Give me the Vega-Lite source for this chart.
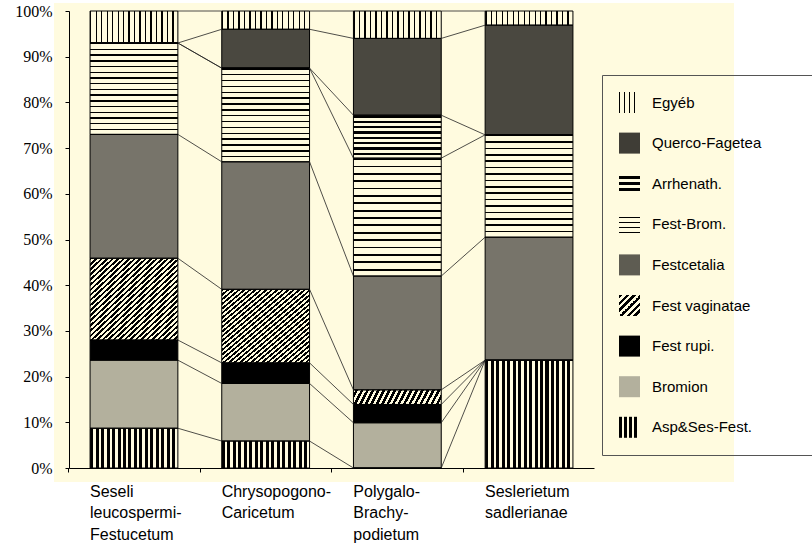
{
  "$schema": "https://vega.github.io/schema/vega-lite/v6.json",
  "width": 680,
  "height": 479,
  "autosize": {"type": "none"},
  "padding": {"left": 54, "top": 3, "right": 78, "bottom": 64},
  "background": "white",
  "config": {"view": {"fill": "#fffbdf", "stroke": null}},
  "datasets": {
    "d": [
      {"bar": "Seseli leucospermi-Festucetum", "b": 1, "cat": "Asp&Ses-Fest.", "k": 1, "v": 8.7},
      {"bar": "Seseli leucospermi-Festucetum", "b": 1, "cat": "Bromion", "k": 2, "v": 14.9},
      {"bar": "Seseli leucospermi-Festucetum", "b": 1, "cat": "Fest rupi.", "k": 3, "v": 4.4},
      {"bar": "Seseli leucospermi-Festucetum", "b": 1, "cat": "Fest vaginatae", "k": 4, "v": 17.9},
      {"bar": "Seseli leucospermi-Festucetum", "b": 1, "cat": "Festcetalia", "k": 5, "v": 27.1},
      {"bar": "Seseli leucospermi-Festucetum", "b": 1, "cat": "Fest-Brom.", "k": 6, "v": 20.0},
      {"bar": "Seseli leucospermi-Festucetum", "b": 1, "cat": "Arrhenath.", "k": 7, "v": 0},
      {"bar": "Seseli leucospermi-Festucetum", "b": 1, "cat": "Querco-Fagetea", "k": 8, "v": 0},
      {"bar": "Seseli leucospermi-Festucetum", "b": 1, "cat": "Egyéb", "k": 9, "v": 7.0},
      {"bar": "Chrysopogono-Caricetum", "b": 2, "cat": "Asp&Ses-Fest.", "k": 1, "v": 5.9},
      {"bar": "Chrysopogono-Caricetum", "b": 2, "cat": "Bromion", "k": 2, "v": 12.6},
      {"bar": "Chrysopogono-Caricetum", "b": 2, "cat": "Fest rupi.", "k": 3, "v": 4.5},
      {"bar": "Chrysopogono-Caricetum", "b": 2, "cat": "Fest vaginatae", "k": 4, "v": 16.1},
      {"bar": "Chrysopogono-Caricetum", "b": 2, "cat": "Festcetalia", "k": 5, "v": 27.9},
      {"bar": "Chrysopogono-Caricetum", "b": 2, "cat": "Fest-Brom.", "k": 6, "v": 20.5},
      {"bar": "Chrysopogono-Caricetum", "b": 2, "cat": "Arrhenath.", "k": 7, "v": 0},
      {"bar": "Chrysopogono-Caricetum", "b": 2, "cat": "Querco-Fagetea", "k": 8, "v": 8.5},
      {"bar": "Chrysopogono-Caricetum", "b": 2, "cat": "Egyéb", "k": 9, "v": 4.0},
      {"bar": "Polygalo-Brachypodietum", "b": 3, "cat": "Asp&Ses-Fest.", "k": 1, "v": 0},
      {"bar": "Polygalo-Brachypodietum", "b": 3, "cat": "Bromion", "k": 2, "v": 9.9},
      {"bar": "Polygalo-Brachypodietum", "b": 3, "cat": "Fest rupi.", "k": 3, "v": 4.0},
      {"bar": "Polygalo-Brachypodietum", "b": 3, "cat": "Fest vaginatae", "k": 4, "v": 3.2},
      {"bar": "Polygalo-Brachypodietum", "b": 3, "cat": "Festcetalia", "k": 5, "v": 24.9},
      {"bar": "Polygalo-Brachypodietum", "b": 3, "cat": "Fest-Brom.", "k": 6, "v": 25.8},
      {"bar": "Polygalo-Brachypodietum", "b": 3, "cat": "Arrhenath.", "k": 7, "v": 9.4},
      {"bar": "Polygalo-Brachypodietum", "b": 3, "cat": "Querco-Fagetea", "k": 8, "v": 16.8},
      {"bar": "Polygalo-Brachypodietum", "b": 3, "cat": "Egyéb", "k": 9, "v": 6.0},
      {"bar": "Seslerietum sadlerianae", "b": 4, "cat": "Asp&Ses-Fest.", "k": 1, "v": 23.6},
      {"bar": "Seslerietum sadlerianae", "b": 4, "cat": "Bromion", "k": 2, "v": 0},
      {"bar": "Seslerietum sadlerianae", "b": 4, "cat": "Fest rupi.", "k": 3, "v": 0},
      {"bar": "Seslerietum sadlerianae", "b": 4, "cat": "Fest vaginatae", "k": 4, "v": 0},
      {"bar": "Seslerietum sadlerianae", "b": 4, "cat": "Festcetalia", "k": 5, "v": 26.9},
      {"bar": "Seslerietum sadlerianae", "b": 4, "cat": "Fest-Brom.", "k": 6, "v": 22.4},
      {"bar": "Seslerietum sadlerianae", "b": 4, "cat": "Arrhenath.", "k": 7, "v": 0},
      {"bar": "Seslerietum sadlerianae", "b": 4, "cat": "Querco-Fagetea", "k": 8, "v": 24.0},
      {"bar": "Seslerietum sadlerianae", "b": 4, "cat": "Egyéb", "k": 9, "v": 3.1}
    ]
  },
  "data": {"name": "d"},
  "transform": [
    {"stack": "v", "groupby": ["bar"], "sort": [{"field": "k", "order": "ascending"}], "as": ["y0", "y1"]}
  ],
  "layer": [
    {
      "transform": [{"filter": "datum.cat == 'Querco-Fagetea' || datum.cat == 'Festcetalia' || datum.cat == 'Fest rupi.' || datum.cat == 'Bromion'"}],
      "mark": {"type": "bar", "stroke": "black", "strokeWidth": 1},
      "encoding": {
        "x": {
          "field": "bar", "type": "nominal",
          "scale": {
            "domain": ["Seseli leucospermi-Festucetum", "Chrysopogono-Caricetum", "Polygalo-Brachypodietum", "Seslerietum sadlerianae"],
            "range": [15, 540], "paddingInner": 0.3333, "paddingOuter": 0.16
          },
          "axis": {
            "title": null, "orient": "bottom", "offset": -14, "bandPosition": -0.245,
            "domainColor": "black", "domainWidth": 1, "tickColor": "black", "tickSize": 4,
            "labelAngle": 0, "labelAlign": "left", "labelBaseline": "top", "labelOffset": -44, "labelPadding": 11,
            "labelFont": "Liberation Sans", "labelFontSize": 16, "labelColor": "black", "labelLineHeight": 21.5,
            "labelOverlap": false, "labelBound": false, "labelLimit": 400, "labelFlush": false,
            "labelExpr": "datum.value == 'Seseli leucospermi-Festucetum' ? ['Seseli', 'leucospermi-', 'Festucetum'] : datum.value == 'Chrysopogono-Caricetum' ? ['Chrysopogono-', 'Caricetum'] : datum.value == 'Polygalo-Brachypodietum' ? ['Polygalo-', 'Brachy-', 'podietum'] : ['Seslerietum', 'sadlerianae']"
          }
        },
        "y": {
          "field": "y0", "type": "quantitative",
          "scale": {"domain": [0, 100], "range": [465, 8], "nice": false},
          "axis": {
            "title": null, "orient": "left", "offset": -15, "grid": false,
            "values": [0, 10, 20, 30, 40, 50, 60, 70, 80, 90, 100],
            "labelExpr": "datum.value + '%'",
            "domainColor": "black", "domainWidth": 1, "tickColor": "black", "tickSize": 4,
            "labelFont": "Liberation Serif", "labelFontSize": 16, "labelColor": "black", "labelPadding": 13
          }
        },
        "y2": {"field": "y1"},
        "color": {
          "field": "cat", "type": "nominal", "legend": null,
          "scale": {
            "domain": ["Querco-Fagetea", "Festcetalia", "Fest rupi.", "Bromion"],
            "range": ["#4a4840", "#77746a", "#000000", "#b3b09d"]
          }
        },
        "opacity": {
          "field": "cat", "type": "nominal",
          "scale": {
            "domain": ["Egyéb", "Querco-Fagetea", "Arrhenath.", "Fest-Brom.", "Festcetalia", "Fest vaginatae", "Fest rupi.", "Bromion", "Asp&Ses-Fest."],
            "range": [1, 1, 1, 1, 1, 1, 1, 1, 1]
          },
          "legend": {
            "orient": "none", "legendX": 548, "legendY": 72, "title": null,
            "symbolType": "square", "symbolSize": 441, "symbolStrokeWidth": 0, "symbolStrokeColor": "transparent",
            "labelFont": "Liberation Sans", "labelFontSize": 15, "labelColor": "black", "labelOffset": 12,
            "rowPadding": 19.6, "padding": 17, "strokeColor": "#555555",
            "labelExpr": "datum.label + '\u2800\u2800\u2800'",
            "symbolFillColor": {"expr": "datum.value == 'Egyéb' ? {gradient: 'linear', x1: 0, y1: 0, x2: 1, y2: 0, stops: [{offset: 0, color: 'black'}, {offset: 0.06, color: 'black'}, {offset: 0.06, color: 'transparent'}, {offset: 0.24, color: 'transparent'}, {offset: 0.24, color: 'black'}, {offset: 0.3, color: 'black'}, {offset: 0.3, color: 'transparent'}, {offset: 0.48, color: 'transparent'}, {offset: 0.48, color: 'black'}, {offset: 0.54, color: 'black'}, {offset: 0.54, color: 'transparent'}, {offset: 0.72, color: 'transparent'}, {offset: 0.72, color: 'black'}, {offset: 0.78, color: 'black'}, {offset: 0.78, color: 'transparent'}, {offset: 1, color: 'transparent'}]} : datum.value == 'Querco-Fagetea' ? '#3f3d36' : datum.value == 'Arrhenath.' ? {gradient: 'linear', x1: 0, y1: 0, x2: 0, y2: 1, stops: [{offset: 0, color: 'transparent'}, {offset: 0.15, color: 'transparent'}, {offset: 0.15, color: 'black'}, {offset: 0.3, color: 'black'}, {offset: 0.3, color: 'transparent'}, {offset: 0.42, color: 'transparent'}, {offset: 0.42, color: 'black'}, {offset: 0.57, color: 'black'}, {offset: 0.57, color: 'transparent'}, {offset: 0.69, color: 'transparent'}, {offset: 0.69, color: 'black'}, {offset: 0.84, color: 'black'}, {offset: 0.84, color: 'transparent'}, {offset: 1, color: 'transparent'}]} : datum.value == 'Fest-Brom.' ? {gradient: 'linear', x1: 0, y1: 0, x2: 0, y2: 1, stops: [{offset: 0, color: 'transparent'}, {offset: 0.14, color: 'transparent'}, {offset: 0.14, color: 'black'}, {offset: 0.2, color: 'black'}, {offset: 0.2, color: 'transparent'}, {offset: 0.38, color: 'transparent'}, {offset: 0.38, color: 'black'}, {offset: 0.44, color: 'black'}, {offset: 0.44, color: 'transparent'}, {offset: 0.62, color: 'transparent'}, {offset: 0.62, color: 'black'}, {offset: 0.68, color: 'black'}, {offset: 0.68, color: 'transparent'}, {offset: 0.86, color: 'transparent'}, {offset: 0.86, color: 'black'}, {offset: 0.92, color: 'black'}, {offset: 0.92, color: 'transparent'}, {offset: 1, color: 'transparent'}]} : datum.value == 'Festcetalia' ? '#5e5c52' : datum.value == 'Fest vaginatae' ? {gradient: 'linear', x1: 0, y1: 0, x2: 1, y2: 1, stops: [{offset: 0, color: 'black'}, {offset: 0.0833, color: 'black'}, {offset: 0.0833, color: 'transparent'}, {offset: 0.1667, color: 'transparent'}, {offset: 0.1667, color: 'black'}, {offset: 0.25, color: 'black'}, {offset: 0.25, color: 'transparent'}, {offset: 0.3333, color: 'transparent'}, {offset: 0.3333, color: 'black'}, {offset: 0.4167, color: 'black'}, {offset: 0.4167, color: 'transparent'}, {offset: 0.5, color: 'transparent'}, {offset: 0.5, color: 'black'}, {offset: 0.5833, color: 'black'}, {offset: 0.5833, color: 'transparent'}, {offset: 0.6667, color: 'transparent'}, {offset: 0.6667, color: 'black'}, {offset: 0.75, color: 'black'}, {offset: 0.75, color: 'transparent'}, {offset: 0.8333, color: 'transparent'}, {offset: 0.8333, color: 'black'}, {offset: 0.9167, color: 'black'}, {offset: 0.9167, color: 'transparent'}, {offset: 1, color: 'transparent'}]} : datum.value == 'Fest rupi.' ? '#000000' : datum.value == 'Bromion' ? '#b3b09d' : {gradient: 'linear', x1: 0, y1: 0, x2: 1, y2: 0, stops: [{offset: 0, color: 'black'}, {offset: 0.13, color: 'black'}, {offset: 0.13, color: 'transparent'}, {offset: 0.24, color: 'transparent'}, {offset: 0.24, color: 'black'}, {offset: 0.37, color: 'black'}, {offset: 0.37, color: 'transparent'}, {offset: 0.48, color: 'transparent'}, {offset: 0.48, color: 'black'}, {offset: 0.61, color: 'black'}, {offset: 0.61, color: 'transparent'}, {offset: 0.72, color: 'transparent'}, {offset: 0.72, color: 'black'}, {offset: 0.85, color: 'black'}, {offset: 0.85, color: 'transparent'}, {offset: 1, color: 'transparent'}]}"}
          }
        }
      }
    },
    {
      "transform": [{"filter": "datum.cat == 'Egyéb'"}],
      "mark": {"type": "bar", "stroke": "black", "strokeWidth": 1, "fill": {"gradient": "linear", "x1": 0, "y1": 0, "x2": 1, "y2": 0, "stops": [
                {"offset": 0, "color": "black"}, {"offset": 0.015625, "color": "black"}, {"offset": 0.015625, "color": "transparent"}, {"offset": 0.0625, "color": "transparent"},
                {"offset": 0.0625, "color": "black"}, {"offset": 0.078125, "color": "black"}, {"offset": 0.078125, "color": "transparent"}, {"offset": 0.125, "color": "transparent"},
                {"offset": 0.125, "color": "black"}, {"offset": 0.140625, "color": "black"}, {"offset": 0.140625, "color": "transparent"}, {"offset": 0.1875, "color": "transparent"},
                {"offset": 0.1875, "color": "black"}, {"offset": 0.203125, "color": "black"}, {"offset": 0.203125, "color": "transparent"}, {"offset": 0.25, "color": "transparent"},
                {"offset": 0.25, "color": "black"}, {"offset": 0.265625, "color": "black"}, {"offset": 0.265625, "color": "transparent"}, {"offset": 0.3125, "color": "transparent"},
                {"offset": 0.3125, "color": "black"}, {"offset": 0.328125, "color": "black"}, {"offset": 0.328125, "color": "transparent"}, {"offset": 0.375, "color": "transparent"},
                {"offset": 0.375, "color": "black"}, {"offset": 0.390625, "color": "black"}, {"offset": 0.390625, "color": "transparent"}, {"offset": 0.4375, "color": "transparent"},
                {"offset": 0.4375, "color": "black"}, {"offset": 0.453125, "color": "black"}, {"offset": 0.453125, "color": "transparent"}, {"offset": 0.5, "color": "transparent"},
                {"offset": 0.5, "color": "black"}, {"offset": 0.515625, "color": "black"}, {"offset": 0.515625, "color": "transparent"}, {"offset": 0.5625, "color": "transparent"},
                {"offset": 0.5625, "color": "black"}, {"offset": 0.578125, "color": "black"}, {"offset": 0.578125, "color": "transparent"}, {"offset": 0.625, "color": "transparent"},
                {"offset": 0.625, "color": "black"}, {"offset": 0.640625, "color": "black"}, {"offset": 0.640625, "color": "transparent"}, {"offset": 0.6875, "color": "transparent"},
                {"offset": 0.6875, "color": "black"}, {"offset": 0.703125, "color": "black"}, {"offset": 0.703125, "color": "transparent"}, {"offset": 0.75, "color": "transparent"},
                {"offset": 0.75, "color": "black"}, {"offset": 0.765625, "color": "black"}, {"offset": 0.765625, "color": "transparent"}, {"offset": 0.8125, "color": "transparent"},
                {"offset": 0.8125, "color": "black"}, {"offset": 0.828125, "color": "black"}, {"offset": 0.828125, "color": "transparent"}, {"offset": 0.875, "color": "transparent"},
                {"offset": 0.875, "color": "black"}, {"offset": 0.890625, "color": "black"}, {"offset": 0.890625, "color": "transparent"}, {"offset": 0.9375, "color": "transparent"},
                {"offset": 0.9375, "color": "black"}, {"offset": 0.953125, "color": "black"}, {"offset": 0.953125, "color": "transparent"}, {"offset": 1, "color": "transparent"}
      ]}},
      "encoding": {
        "x": {"field": "bar", "type": "nominal"},
        "y": {"field": "y0", "type": "quantitative"},
        "y2": {"field": "y1"}
      }
    },
    {
      "transform": [{"filter": "datum.cat == 'Fest-Brom.'"}],
      "mark": {"type": "bar", "stroke": "black", "strokeWidth": 1, "fill": {"gradient": "linear", "x1": 0, "y1": 0, "x2": 0, "y2": 1, "stops": [
                {"offset": 0, "color": "black"}, {"offset": 0.015625, "color": "black"}, {"offset": 0.015625, "color": "transparent"}, {"offset": 0.0625, "color": "transparent"},
                {"offset": 0.0625, "color": "black"}, {"offset": 0.078125, "color": "black"}, {"offset": 0.078125, "color": "transparent"}, {"offset": 0.125, "color": "transparent"},
                {"offset": 0.125, "color": "black"}, {"offset": 0.140625, "color": "black"}, {"offset": 0.140625, "color": "transparent"}, {"offset": 0.1875, "color": "transparent"},
                {"offset": 0.1875, "color": "black"}, {"offset": 0.203125, "color": "black"}, {"offset": 0.203125, "color": "transparent"}, {"offset": 0.25, "color": "transparent"},
                {"offset": 0.25, "color": "black"}, {"offset": 0.265625, "color": "black"}, {"offset": 0.265625, "color": "transparent"}, {"offset": 0.3125, "color": "transparent"},
                {"offset": 0.3125, "color": "black"}, {"offset": 0.328125, "color": "black"}, {"offset": 0.328125, "color": "transparent"}, {"offset": 0.375, "color": "transparent"},
                {"offset": 0.375, "color": "black"}, {"offset": 0.390625, "color": "black"}, {"offset": 0.390625, "color": "transparent"}, {"offset": 0.4375, "color": "transparent"},
                {"offset": 0.4375, "color": "black"}, {"offset": 0.453125, "color": "black"}, {"offset": 0.453125, "color": "transparent"}, {"offset": 0.5, "color": "transparent"},
                {"offset": 0.5, "color": "black"}, {"offset": 0.515625, "color": "black"}, {"offset": 0.515625, "color": "transparent"}, {"offset": 0.5625, "color": "transparent"},
                {"offset": 0.5625, "color": "black"}, {"offset": 0.578125, "color": "black"}, {"offset": 0.578125, "color": "transparent"}, {"offset": 0.625, "color": "transparent"},
                {"offset": 0.625, "color": "black"}, {"offset": 0.640625, "color": "black"}, {"offset": 0.640625, "color": "transparent"}, {"offset": 0.6875, "color": "transparent"},
                {"offset": 0.6875, "color": "black"}, {"offset": 0.703125, "color": "black"}, {"offset": 0.703125, "color": "transparent"}, {"offset": 0.75, "color": "transparent"},
                {"offset": 0.75, "color": "black"}, {"offset": 0.765625, "color": "black"}, {"offset": 0.765625, "color": "transparent"}, {"offset": 0.8125, "color": "transparent"},
                {"offset": 0.8125, "color": "black"}, {"offset": 0.828125, "color": "black"}, {"offset": 0.828125, "color": "transparent"}, {"offset": 0.875, "color": "transparent"},
                {"offset": 0.875, "color": "black"}, {"offset": 0.890625, "color": "black"}, {"offset": 0.890625, "color": "transparent"}, {"offset": 0.9375, "color": "transparent"},
                {"offset": 0.9375, "color": "black"}, {"offset": 0.953125, "color": "black"}, {"offset": 0.953125, "color": "transparent"}, {"offset": 1, "color": "transparent"}
      ]}},
      "encoding": {
        "x": {"field": "bar", "type": "nominal"},
        "y": {"field": "y0", "type": "quantitative"},
        "y2": {"field": "y1"}
      }
    },
    {
      "transform": [{"filter": "datum.cat == 'Arrhenath.'"}],
      "mark": {"type": "bar", "stroke": "black", "strokeWidth": 1, "fill": {"gradient": "linear", "x1": 0, "y1": 0, "x2": 0, "y2": 1, "stops": [
                {"offset": 0, "color": "black"}, {"offset": 0.0563, "color": "black"}, {"offset": 0.0563, "color": "transparent"}, {"offset": 0.125, "color": "transparent"},
                {"offset": 0.125, "color": "black"}, {"offset": 0.1813, "color": "black"}, {"offset": 0.1813, "color": "transparent"}, {"offset": 0.25, "color": "transparent"},
                {"offset": 0.25, "color": "black"}, {"offset": 0.3063, "color": "black"}, {"offset": 0.3063, "color": "transparent"}, {"offset": 0.375, "color": "transparent"},
                {"offset": 0.375, "color": "black"}, {"offset": 0.4313, "color": "black"}, {"offset": 0.4313, "color": "transparent"}, {"offset": 0.5, "color": "transparent"},
                {"offset": 0.5, "color": "black"}, {"offset": 0.5563, "color": "black"}, {"offset": 0.5563, "color": "transparent"}, {"offset": 0.625, "color": "transparent"},
                {"offset": 0.625, "color": "black"}, {"offset": 0.6813, "color": "black"}, {"offset": 0.6813, "color": "transparent"}, {"offset": 0.75, "color": "transparent"},
                {"offset": 0.75, "color": "black"}, {"offset": 0.8063, "color": "black"}, {"offset": 0.8063, "color": "transparent"}, {"offset": 0.875, "color": "transparent"},
                {"offset": 0.875, "color": "black"}, {"offset": 0.9313, "color": "black"}, {"offset": 0.9313, "color": "transparent"}, {"offset": 1, "color": "transparent"}
      ]}},
      "encoding": {
        "x": {"field": "bar", "type": "nominal"},
        "y": {"field": "y0", "type": "quantitative"},
        "y2": {"field": "y1"}
      }
    },
    {
      "transform": [{"filter": "datum.cat == 'Fest vaginatae'"}],
      "mark": {"type": "bar", "stroke": "black", "strokeWidth": 1, "fill": {"gradient": "linear", "x1": 0, "y1": 0, "x2": 1, "y2": 1, "stops": [
                {"offset": 0, "color": "black"}, {"offset": 0.015625, "color": "black"}, {"offset": 0.015625, "color": "transparent"}, {"offset": 0.03125, "color": "transparent"},
                {"offset": 0.03125, "color": "black"}, {"offset": 0.046875, "color": "black"}, {"offset": 0.046875, "color": "transparent"}, {"offset": 0.0625, "color": "transparent"},
                {"offset": 0.0625, "color": "black"}, {"offset": 0.078125, "color": "black"}, {"offset": 0.078125, "color": "transparent"}, {"offset": 0.09375, "color": "transparent"},
                {"offset": 0.09375, "color": "black"}, {"offset": 0.109375, "color": "black"}, {"offset": 0.109375, "color": "transparent"}, {"offset": 0.125, "color": "transparent"},
                {"offset": 0.125, "color": "black"}, {"offset": 0.140625, "color": "black"}, {"offset": 0.140625, "color": "transparent"}, {"offset": 0.15625, "color": "transparent"},
                {"offset": 0.15625, "color": "black"}, {"offset": 0.171875, "color": "black"}, {"offset": 0.171875, "color": "transparent"}, {"offset": 0.1875, "color": "transparent"},
                {"offset": 0.1875, "color": "black"}, {"offset": 0.203125, "color": "black"}, {"offset": 0.203125, "color": "transparent"}, {"offset": 0.21875, "color": "transparent"},
                {"offset": 0.21875, "color": "black"}, {"offset": 0.234375, "color": "black"}, {"offset": 0.234375, "color": "transparent"}, {"offset": 0.25, "color": "transparent"},
                {"offset": 0.25, "color": "black"}, {"offset": 0.265625, "color": "black"}, {"offset": 0.265625, "color": "transparent"}, {"offset": 0.28125, "color": "transparent"},
                {"offset": 0.28125, "color": "black"}, {"offset": 0.296875, "color": "black"}, {"offset": 0.296875, "color": "transparent"}, {"offset": 0.3125, "color": "transparent"},
                {"offset": 0.3125, "color": "black"}, {"offset": 0.328125, "color": "black"}, {"offset": 0.328125, "color": "transparent"}, {"offset": 0.34375, "color": "transparent"},
                {"offset": 0.34375, "color": "black"}, {"offset": 0.359375, "color": "black"}, {"offset": 0.359375, "color": "transparent"}, {"offset": 0.375, "color": "transparent"},
                {"offset": 0.375, "color": "black"}, {"offset": 0.390625, "color": "black"}, {"offset": 0.390625, "color": "transparent"}, {"offset": 0.40625, "color": "transparent"},
                {"offset": 0.40625, "color": "black"}, {"offset": 0.421875, "color": "black"}, {"offset": 0.421875, "color": "transparent"}, {"offset": 0.4375, "color": "transparent"},
                {"offset": 0.4375, "color": "black"}, {"offset": 0.453125, "color": "black"}, {"offset": 0.453125, "color": "transparent"}, {"offset": 0.46875, "color": "transparent"},
                {"offset": 0.46875, "color": "black"}, {"offset": 0.484375, "color": "black"}, {"offset": 0.484375, "color": "transparent"}, {"offset": 0.5, "color": "transparent"},
                {"offset": 0.5, "color": "black"}, {"offset": 0.515625, "color": "black"}, {"offset": 0.515625, "color": "transparent"}, {"offset": 0.53125, "color": "transparent"},
                {"offset": 0.53125, "color": "black"}, {"offset": 0.546875, "color": "black"}, {"offset": 0.546875, "color": "transparent"}, {"offset": 0.5625, "color": "transparent"},
                {"offset": 0.5625, "color": "black"}, {"offset": 0.578125, "color": "black"}, {"offset": 0.578125, "color": "transparent"}, {"offset": 0.59375, "color": "transparent"},
                {"offset": 0.59375, "color": "black"}, {"offset": 0.609375, "color": "black"}, {"offset": 0.609375, "color": "transparent"}, {"offset": 0.625, "color": "transparent"},
                {"offset": 0.625, "color": "black"}, {"offset": 0.640625, "color": "black"}, {"offset": 0.640625, "color": "transparent"}, {"offset": 0.65625, "color": "transparent"},
                {"offset": 0.65625, "color": "black"}, {"offset": 0.671875, "color": "black"}, {"offset": 0.671875, "color": "transparent"}, {"offset": 0.6875, "color": "transparent"},
                {"offset": 0.6875, "color": "black"}, {"offset": 0.703125, "color": "black"}, {"offset": 0.703125, "color": "transparent"}, {"offset": 0.71875, "color": "transparent"},
                {"offset": 0.71875, "color": "black"}, {"offset": 0.734375, "color": "black"}, {"offset": 0.734375, "color": "transparent"}, {"offset": 0.75, "color": "transparent"},
                {"offset": 0.75, "color": "black"}, {"offset": 0.765625, "color": "black"}, {"offset": 0.765625, "color": "transparent"}, {"offset": 0.78125, "color": "transparent"},
                {"offset": 0.78125, "color": "black"}, {"offset": 0.796875, "color": "black"}, {"offset": 0.796875, "color": "transparent"}, {"offset": 0.8125, "color": "transparent"},
                {"offset": 0.8125, "color": "black"}, {"offset": 0.828125, "color": "black"}, {"offset": 0.828125, "color": "transparent"}, {"offset": 0.84375, "color": "transparent"},
                {"offset": 0.84375, "color": "black"}, {"offset": 0.859375, "color": "black"}, {"offset": 0.859375, "color": "transparent"}, {"offset": 0.875, "color": "transparent"},
                {"offset": 0.875, "color": "black"}, {"offset": 0.890625, "color": "black"}, {"offset": 0.890625, "color": "transparent"}, {"offset": 0.90625, "color": "transparent"},
                {"offset": 0.90625, "color": "black"}, {"offset": 0.921875, "color": "black"}, {"offset": 0.921875, "color": "transparent"}, {"offset": 0.9375, "color": "transparent"},
                {"offset": 0.9375, "color": "black"}, {"offset": 0.953125, "color": "black"}, {"offset": 0.953125, "color": "transparent"}, {"offset": 0.96875, "color": "transparent"},
                {"offset": 0.96875, "color": "black"}, {"offset": 0.984375, "color": "black"}, {"offset": 0.984375, "color": "transparent"}, {"offset": 1, "color": "transparent"}
      ]}},
      "encoding": {
        "x": {"field": "bar", "type": "nominal"},
        "y": {"field": "y0", "type": "quantitative"},
        "y2": {"field": "y1"}
      }
    },
    {
      "transform": [{"filter": "datum.cat == 'Asp&Ses-Fest.'"}],
      "mark": {"type": "bar", "stroke": "black", "strokeWidth": 1, "fill": {"gradient": "linear", "x1": 0, "y1": 0, "x2": 1, "y2": 0, "stops": [
                {"offset": 0, "color": "black"}, {"offset": 0.034375, "color": "black"}, {"offset": 0.034375, "color": "transparent"}, {"offset": 0.0625, "color": "transparent"},
                {"offset": 0.0625, "color": "black"}, {"offset": 0.096875, "color": "black"}, {"offset": 0.096875, "color": "transparent"}, {"offset": 0.125, "color": "transparent"},
                {"offset": 0.125, "color": "black"}, {"offset": 0.159375, "color": "black"}, {"offset": 0.159375, "color": "transparent"}, {"offset": 0.1875, "color": "transparent"},
                {"offset": 0.1875, "color": "black"}, {"offset": 0.221875, "color": "black"}, {"offset": 0.221875, "color": "transparent"}, {"offset": 0.25, "color": "transparent"},
                {"offset": 0.25, "color": "black"}, {"offset": 0.284375, "color": "black"}, {"offset": 0.284375, "color": "transparent"}, {"offset": 0.3125, "color": "transparent"},
                {"offset": 0.3125, "color": "black"}, {"offset": 0.346875, "color": "black"}, {"offset": 0.346875, "color": "transparent"}, {"offset": 0.375, "color": "transparent"},
                {"offset": 0.375, "color": "black"}, {"offset": 0.409375, "color": "black"}, {"offset": 0.409375, "color": "transparent"}, {"offset": 0.4375, "color": "transparent"},
                {"offset": 0.4375, "color": "black"}, {"offset": 0.471875, "color": "black"}, {"offset": 0.471875, "color": "transparent"}, {"offset": 0.5, "color": "transparent"},
                {"offset": 0.5, "color": "black"}, {"offset": 0.534375, "color": "black"}, {"offset": 0.534375, "color": "transparent"}, {"offset": 0.5625, "color": "transparent"},
                {"offset": 0.5625, "color": "black"}, {"offset": 0.596875, "color": "black"}, {"offset": 0.596875, "color": "transparent"}, {"offset": 0.625, "color": "transparent"},
                {"offset": 0.625, "color": "black"}, {"offset": 0.659375, "color": "black"}, {"offset": 0.659375, "color": "transparent"}, {"offset": 0.6875, "color": "transparent"},
                {"offset": 0.6875, "color": "black"}, {"offset": 0.721875, "color": "black"}, {"offset": 0.721875, "color": "transparent"}, {"offset": 0.75, "color": "transparent"},
                {"offset": 0.75, "color": "black"}, {"offset": 0.784375, "color": "black"}, {"offset": 0.784375, "color": "transparent"}, {"offset": 0.8125, "color": "transparent"},
                {"offset": 0.8125, "color": "black"}, {"offset": 0.846875, "color": "black"}, {"offset": 0.846875, "color": "transparent"}, {"offset": 0.875, "color": "transparent"},
                {"offset": 0.875, "color": "black"}, {"offset": 0.909375, "color": "black"}, {"offset": 0.909375, "color": "transparent"}, {"offset": 0.9375, "color": "transparent"},
                {"offset": 0.9375, "color": "black"}, {"offset": 0.971875, "color": "black"}, {"offset": 0.971875, "color": "transparent"}, {"offset": 1, "color": "transparent"}
      ]}},
      "encoding": {
        "x": {"field": "bar", "type": "nominal"},
        "y": {"field": "y0", "type": "quantitative"},
        "y2": {"field": "y1"}
      }
    },
    {
      "transform": [
        {"window": [{"op": "lead", "field": "y1", "as": "ny"}, {"op": "lead", "field": "bar", "as": "nbar"}], "groupby": ["cat"], "sort": [{"field": "b", "order": "ascending"}]},
        {"filter": "datum.nbar != null"}
      ],
      "mark": {"type": "rule", "stroke": "#222222", "strokeWidth": 0.8},
      "encoding": {
        "x": {"field": "bar", "type": "nominal", "bandPosition": 1},
        "x2": {"field": "nbar", "bandPosition": 0},
        "y": {"field": "y1", "type": "quantitative"},
        "y2": {"field": "ny"}
      }
    }
  ]
}
